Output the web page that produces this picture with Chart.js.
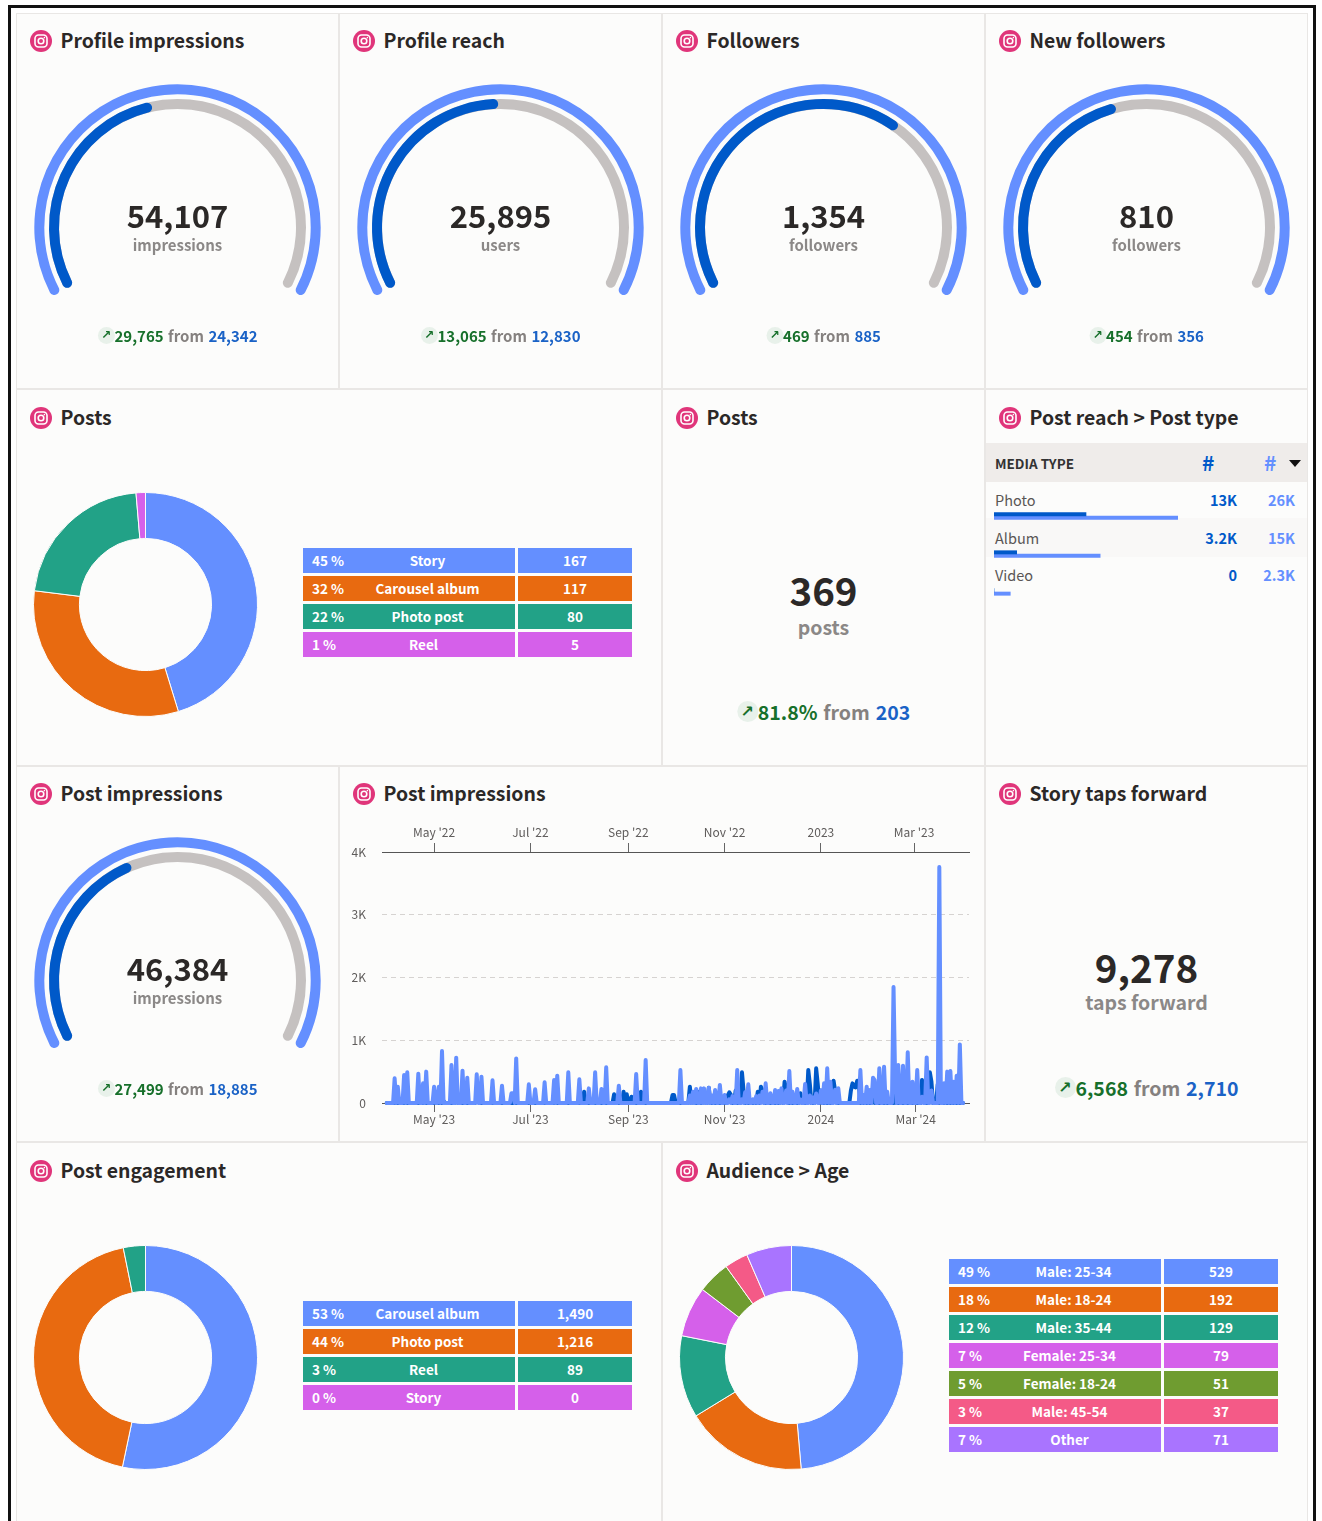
<!DOCTYPE html>
<html>
<head>
<meta charset="utf-8">
<script src="https://cdn.jsdelivr.net/npm/chart.js@4"></script>
<style>
  html, body { margin: 0; padding: 0; background: #fff; width: 1322px; height: 1521px; overflow: hidden; }
  body { font-family: "Noto Sans CJK SC", "Noto Sans", sans-serif; color: #2b2827; position: relative; }
  .frame { position: absolute; left: 8px; top: 5px; width: 1302px; height: 1530px; border: 3px solid #111; box-sizing: content-box; }
  .panel { position: absolute; background: #fcfcfb; border: 1px solid #e9e7e5; box-sizing: border-box; }
  .title { position: absolute; font-size: 19.4px; font-weight: 700; color: #2b2827; white-space: nowrap; line-height: 26px; }
  .icon { position: absolute; width: 22px; height: 22px; }
  .center { position: absolute; text-align: center; transform: translateX(-50%); white-space: nowrap; }
  .big { font-weight: 700; color: #2b2827; }
  .unit { font-weight: 700; color: #8b8887; }
  .delta { font-weight: 700; display: flex; align-items: center; }
  .delta .up { color: #17702b; }
  .delta .from { color: #85817f; margin: 0 .3em; }
  .delta .prev { color: #1a62c6; }
  .arrow { display: inline-block; border-radius: 50%; background: #e8f1ea; color: #17702b; text-align: center; font-family: "DejaVu Sans"; font-weight: 700; }
  canvas { position: absolute; }
  .row { position: absolute; display: flex; gap: 3px; height: 25px; color: #fff; font-size: 13.5px; font-weight: 700; line-height: 25px; }
  .row .a { display: flex; box-sizing: border-box; padding: 0 4px 0 9px; }
  .row .a .l { flex: 1; text-align: center; }
  .row .b { text-align: center; }
  .tbl { position: absolute; font-size: 14.5px; white-space: nowrap; }
</style>
</head>
<body>
<div class="frame"></div>
<div id="root"></div>
<script>
const colors = ['#648fff', '#e86a10', '#22a287', '#d560ea', '#6f9c30', '#f45a87', '#a974ff'];
const lightBlue = '#648fff';
const darkBlue = '#0059c9';
const gaugeGray = '#c5c1c0';

const gaugeTitles = ['Profile impressions', 'Profile reach', 'Followers', 'New followers', 'Post impressions'];
const gaugeTotals = [54107, 25895, 1354, 810, 46384];
const gaugeUnits = ['impressions', 'users', 'followers', 'followers', 'impressions'];
const gaugeChanges = [29765, 13065, 469, 454, 27499];
const gaugePrevious = [24342, 12830, 885, 356, 18885];

const postTypes = ['Story', 'Carousel album', 'Photo post', 'Reel'];
const postCounts = [167, 117, 80, 5];
const postPcts = ['45 %', '32 %', '22 %', '1 %'];

const engagementTypes = ['Carousel album', 'Photo post', 'Reel', 'Story'];
const engagementCounts = [1490, 1216, 89, 0];
const engagementPcts = ['53 %', '44 %', '3 %', '0 %'];

const ageGroups = ['Male: 25-34', 'Male: 18-24', 'Male: 35-44', 'Female: 25-34', 'Female: 18-24', 'Male: 45-54', 'Other'];
const ageCounts = [529, 192, 129, 79, 51, 37, 71];
const agePcts = ['49 %', '18 %', '12 %', '7 %', '5 %', '3 %', '7 %'];

const reachTypes = ['Photo', 'Album', 'Video'];
const reachPrevious = [13000, 3200, 0];
const reachCurrent = [26000, 15000, 2300];
const reachPreviousLabels = ['13K', '3.2K', '0'];
const reachCurrentLabels = ['26K', '15K', '2.3K'];

// day 0 = 1 Apr 2023, days not listed are zero
const currentDays = [5, 7, 11, 13, 20, 23, 25, 30, 33, 35, 41, 44, 48, 51, 57, 60, 67, 73, 79, 80, 82, 90, 94, 100, 106, 108, 115, 122, 128, 132, 136, 139, 147, 158, 164, 186,
  192, 194, 196, 199, 201, 204, 206, 208, 211, 214, 217, 219, 222, 225, 227, 229, 232, 234, 236, 238, 240, 243, 246, 248, 250, 253, 255, 257, 260, 262, 265, 268, 270, 272, 275, 277, 279, 281, 284, 286,
  300, 302, 304, 306, 308, 309, 312, 315, 317, 321, 322, 324, 327, 330, 333, 336, 339, 342, 345, 350, 353, 355, 357, 359, 361, 363];
const currentValues = [393, 260, 446, 489, 467, 313, 500, 260, 260, 828, 605, 722, 515, 403, 457, 420, 361, 276, 154, 154, 711, 297, 218, 329, 366, 435, 489, 377, 233, 489, 223, 568, 276, 462, 685, 525,
  120, 180, 223, 233, 233, 244, 120, 207, 287, 127, 60, 110, 525, 60, 170, 297, 60, 110, 120, 180, 313, 154, 207, 190, 233, 200, 510, 180, 223, 60, 303, 120, 90, 150, 200, 313, 552, 340, 210, 234,
  525, 127, 260, 207, 403, 366, 552, 579, 180, 1850, 400, 605, 595, 807, 340, 525, 100, 727, 200, 3760, 313, 500, 510, 340, 435, 934];
const previousDays = [12, 24, 36, 44, 57, 58, 107, 125, 131, 144, 146, 150, 152, 155, 161, 162, 181, 182, 192, 194, 198, 201, 204, 216, 217, 218, 221, 225, 226, 235, 237, 238, 250, 252, 253, 262, 267, 268, 272, 273, 275, 283, 284, 294, 295, 296, 297, 298, 299, 308, 322, 339, 340, 344, 345, 349, 351];
const previousValues = [40, 40, 30, 30, 40, 40, 30, 180, 60, 138, 100, 180, 140, 100, 180, 150, 127, 127, 260, 150, 180, 170, 244, 120, 170, 130, 200, 489, 200, 180, 260, 200, 200, 340, 200, 154, 525, 300, 552, 300, 200, 356, 200, 200, 313, 260, 250, 356, 300, 250, 300, 366, 300, 490, 340, 300, 200];
const totalDays = 366;

const bottomTickDays = [30, 91, 153, 214, 275, 335];
const bottomTickLabels = ["May '23", "Jul '23", "Sep '23", "Nov '23", '2024', "Mar '24"];
const topTickDays = [30, 91, 153, 214, 275, 334];
const topTickLabels = ["May '22", "Jul '22", "Sep '22", "Nov '22", '2023', "Mar '23"];
const yTicks = [0, 1000, 2000, 3000, 4000];
const yTickLabels = ['0', '1K', '2K', '3K', '4K'];

const root = document.getElementById('root');
const fmt = n => n.toLocaleString('en-US');

function add(html) {
  root.insertAdjacentHTML('beforeend', html);
  return root.lastElementChild;
}

function addCanvas(left, top, w, h) {
  const c = document.createElement('canvas');
  c.width = w; c.height = h;
  c.style.cssText = `left:${left}px;top:${top}px;width:${w}px;height:${h}px`;
  root.appendChild(c);
  return c;
}

function panel(x, y, w, h, title) {
  const off = (y === 389 || y === 1142) ? 1 : 0;
  add(`<div class="panel" style="left:${x}px;top:${y}px;width:${w}px;height:${h}px"></div>`);
  add(`<svg class="icon" style="left:${x + 14}px;top:${y + 17 + off}px" viewBox="0 0 22 22">
    <circle cx="11" cy="11" r="11" fill="#e0357a"/>
    <rect x="5" y="5" width="12" height="12" rx="3.5" fill="none" stroke="#fff" stroke-width="1.6"/>
    <circle cx="11" cy="11" r="2.8" fill="none" stroke="#fff" stroke-width="1.6"/>
    <circle cx="14.4" cy="7.6" r=".8" fill="#fff"/></svg>`);
  add(`<div class="title" style="left:${x + 44.5}px;top:${y + 14 + off}px">${title}</div>`);
}

function deltaLine(cx, cy, up, prev, size) {
  const a = Math.round(size * 1.1);
  add(`<div class="center delta" style="left:${cx}px;top:${cy - 15}px;height:28px;font-size:${size}px">
    <span class="arrow" style="width:${a}px;height:${a}px;line-height:${a}px;font-size:${Math.round(size * .8)}px">↗</span>
    <span class="up">${up}</span><span class="from">from</span><span class="prev">${prev}</span></div>`);
}

function gauge(i, cx, cy) {
  const base = {
    responsive: false, animation: false, rotation: -119, circumference: 238, cutout: '82.75%', radius: 143.2,
    plugins: { legend: { display: false }, tooltip: { enabled: false } },
    elements: { arc: { borderWidth: 0, borderRadius: 5 } },
  };
  const total = gaugeTotals[i];
  const prev = gaugePrevious[i];
  const clear = 'rgba(0,0,0,0)';
  new Chart(addCanvas(cx - 146.5, cy - 183.4, 293, 293), {
    type: 'doughnut',
    data: { labels: ['total'], datasets: [
      { data: [total], backgroundColor: [lightBlue], weight: 10 },
      { data: [total], backgroundColor: [clear], weight: 4.7 },
      { data: [total], backgroundColor: [gaugeGray], weight: 10 },
    ] },
    options: base,
  });
  new Chart(addCanvas(cx - 146.5, cy - 183.4, 293, 293), {
    type: 'doughnut',
    data: { labels: ['previous', 'rest'], datasets: [
      { data: [total], backgroundColor: [clear], weight: 10 },
      { data: [total], backgroundColor: [clear], weight: 4.7 },
      { data: [prev, total - prev], backgroundColor: [darkBlue, clear], weight: 10 },
    ] },
    options: base,
  });
  add(`<div class="center big" style="left:${cx}px;top:${cy - 35}px;font-size:31px;line-height:46px">${fmt(total)}</div>`);
  add(`<div class="center unit" style="left:${cx}px;top:${cy + 6}px;font-size:15px;line-height:24px">${gaugeUnits[i]}</div>`);
  deltaLine(cx, cy + 109, fmt(gaugeChanges[i]), fmt(prev), 15);
}

function donut(cx, cy, values) {
  new Chart(addCanvas(cx - 115.5, cy - 115.5, 231, 231), {
    type: 'doughnut',
    data: { labels: values.map(String), datasets: [{ data: values, backgroundColor: colors.slice(0, values.length), borderColor: '#fcfcfb', borderWidth: 1 }] },
    options: {
      responsive: false, animation: false, cutout: '59%', radius: 112,
      plugins: { legend: { display: false }, tooltip: { enabled: false } },
    },
  });
}

function legendRows(x, y, wa, wb, pcts, names, counts) {
  names.forEach((name, i) => {
    const c = colors[i];
    add(`<div class="row" style="left:${x}px;top:${y + i * 28}px">
      <div class="a" style="width:${wa}px;background:${c}"><span>${pcts[i]}</span><span class="l">${name}</span></div>
      <div class="b" style="width:${wb}px;background:${c}">${fmt(counts[i])}</div></div>`);
  });
}

// panels
[[16, 13, 323, 376], [339, 13, 323, 376], [662, 13, 323, 376], [985, 13, 323, 376]].forEach((p, i) => panel(...p, gaugeTitles[i]));
panel(16, 389, 646, 377, 'Posts');
panel(662, 389, 323, 377, 'Posts');
panel(985, 389, 323, 377, 'Post reach &gt; Post type');
panel(16, 766, 323, 376, gaugeTitles[4]);
panel(339, 766, 646, 376, 'Post impressions');
panel(985, 766, 323, 376, 'Story taps forward');
panel(16, 1142, 646, 400, 'Post engagement');
panel(662, 1142, 646, 400, 'Audience &gt; Age');

[177.5, 500.5, 823.5, 1146.5].forEach((cx, i) => gauge(i, cx, 227.2));
gauge(4, 177.5, 980.2);

donut(145.5, 604.5, postCounts);
legendRows(303, 548, 212, 114, postPcts, postTypes, postCounts);

add(`<div class="center big" style="left:823.5px;top:559px;font-size:38.5px;line-height:60px">369</div>`);
add(`<div class="center unit" style="left:823.5px;top:612px;font-size:19.5px;line-height:30px">posts</div>`);
deltaLine(823.5, 712, '81.8%', '203', 19.5);

add(`<div class="center big" style="left:1146.5px;top:936px;font-size:38.5px;line-height:60px">9,278</div>`);
add(`<div class="center unit" style="left:1146.5px;top:987px;font-size:19.5px;line-height:30px">taps forward</div>`);
deltaLine(1146.5, 1088, '6,568', '2,710', 19.5);

// post reach table
add(`<div class="tbl" style="left:986px;top:443px;width:321px;height:39px;background:#efecea"></div>`);
add(`<div class="tbl" style="left:995px;top:453px;font-size:13.5px;font-weight:700;line-height:20px;color:#333">MEDIA TYPE</div>`);
add(`<div class="tbl" style="left:1202px;top:448px;font-size:21px;font-weight:700;line-height:28px;color:${darkBlue}">#</div>`);
add(`<div class="tbl" style="left:1264px;top:448px;font-size:21px;font-weight:700;line-height:28px;color:${lightBlue}">#</div>`);
add(`<div class="tbl" style="left:1289px;top:460px;width:0;height:0;border-left:6px solid transparent;border-right:6px solid transparent;border-top:7px solid #111"></div>`);
add(`<div class="tbl" style="left:986px;top:518px;width:321px;height:39px;background:#f9f8f7"></div>`);
reachTypes.forEach((t, i) => {
  const y = 489 + i * 37.5;
  add(`<div class="tbl" style="left:995px;top:${y}px;line-height:22px;color:#5a5655">${t}</div>`);
  add(`<div class="tbl" style="right:${1322 - 1237}px;top:${y}px;line-height:22px;font-weight:700;color:${darkBlue}">${reachPreviousLabels[i]}</div>`);
  add(`<div class="tbl" style="right:${1322 - 1295}px;top:${y}px;line-height:22px;font-weight:700;color:${lightBlue}">${reachCurrentLabels[i]}</div>`);
});
new Chart(addCanvas(994, 497, 184, 114), {
  type: 'bar',
  data: { labels: reachTypes, datasets: [
    { data: reachPrevious, backgroundColor: darkBlue, barThickness: 3.3 },
    { data: reachCurrent, backgroundColor: lightBlue, barThickness: 3.3 },
  ] },
  options: {
    indexAxis: 'y', responsive: false, animation: false,
    plugins: { legend: { display: false }, tooltip: { enabled: false } },
    scales: { x: { display: false, min: 0, max: 26000 }, y: { display: false } },
  },
});

donut(145.5, 1357.5, engagementCounts);
legendRows(303, 1301, 212, 114, engagementPcts, engagementTypes, engagementCounts);
donut(791.5, 1357.5, ageCounts);
legendRows(949, 1259, 212, 114, agePcts, ageGroups, ageCounts);

// line chart
const dayLabels = Array.from({ length: totalDays }, (_, d) => d);
const toPoints = (days, values) => dayLabels.map(d => {
  const k = days.indexOf(d);
  return { x: d, y: k >= 0 ? values[k] : 0 };
});
const axisFont = { family: '"Noto Sans CJK SC"', size: 12 };
const xAxis = (position, tickDays, tickLabels, h, pad) => ({
  type: 'linear', position, min: -3, max: 368.8,
  afterBuildTicks: s => { s.ticks = tickDays.map(v => ({ value: v })); },
  afterFit: s => { s.height = h; },
  ticks: { autoSkip: false, maxRotation: 0, color: '#5f5c5b', font: axisFont, padding: pad, callback: v => tickLabels[tickDays.indexOf(v)] },
  grid: { drawOnChartArea: false, color: '#666', tickLength: 9 },
  border: { display: true, color: '#555', width: 1 },
});
new Chart(addCanvas(345, 825, 630, 305), {
  type: 'line',
  data: { datasets: [
    { data: toPoints(currentDays, currentValues), xAxisID: 'x', borderColor: lightBlue, order: 1, clip: false },
    { data: toPoints(previousDays, previousValues), xAxisID: 'x', borderColor: darkBlue, order: 2, clip: false },
  ] },
  options: {
    responsive: false, animation: false, parsing: false,
    layout: { padding: { right: 6, left: 0, top: 0, bottom: 0 } },
    elements: { point: { radius: 0 }, line: { borderWidth: 4, tension: 0, borderJoinStyle: 'round', borderCapStyle: 'round' } },
    plugins: { legend: { display: false }, tooltip: { enabled: false } },
    scales: {
      x: xAxis('bottom', bottomTickDays, bottomTickLabels, 27, 0),
      x2: xAxis('top', topTickDays, topTickLabels, 27, 3),
      y: {
        min: 0, max: 4000,
        afterBuildTicks: s => { s.ticks = yTicks.map(v => ({ value: v })); },
        afterFit: s => { s.width = 37; },
        ticks: { color: '#5f5c5b', font: axisFont, padding: 16, callback: v => yTickLabels[yTicks.indexOf(v)] },
        grid: { drawTicks: false, color: c => (c.tick.value > 0 && c.tick.value < 4000 ? '#d6d3d1' : 'rgba(0,0,0,0)') },
        border: { display: false, dash: [5, 4] },
      },
    },
  },
});
</script>
</body>
</html>
